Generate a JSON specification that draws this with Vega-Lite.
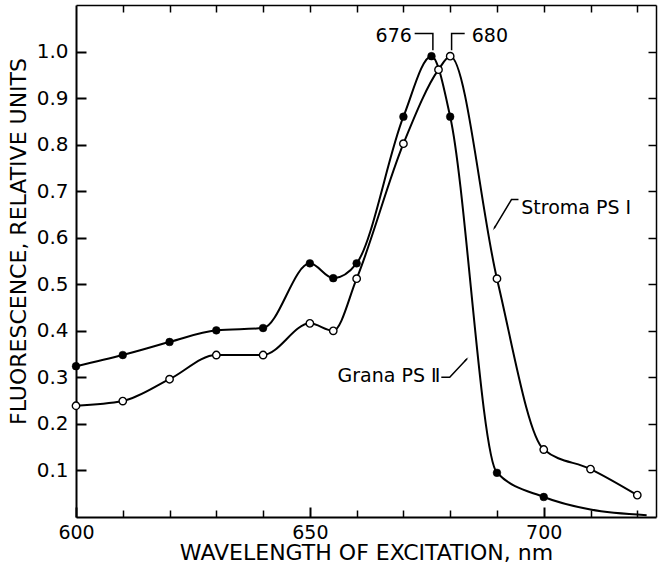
{
  "$schema": "https://vega.github.io/schema/vega-lite/v6.json",
  "width": 580,
  "height": 512,
  "autosize": "none",
  "padding": {"left": 76, "top": 5, "right": 2, "bottom": 54},
  "background": "white",
  "view": {"stroke": null},
  "data": {"values": [
    {"kind": "curve", "series": "Grana PS II", "wl": 600, "f": 0.324, "m": true},
    {"kind": "curve", "series": "Grana PS II", "wl": 610, "f": 0.348, "m": true},
    {"kind": "curve", "series": "Grana PS II", "wl": 620, "f": 0.376, "m": true},
    {"kind": "curve", "series": "Grana PS II", "wl": 630, "f": 0.401, "m": true},
    {"kind": "curve", "series": "Grana PS II", "wl": 640, "f": 0.406, "m": true},
    {"kind": "curve", "series": "Grana PS II", "wl": 650, "f": 0.545, "m": true},
    {"kind": "curve", "series": "Grana PS II", "wl": 655, "f": 0.513, "m": true},
    {"kind": "curve", "series": "Grana PS II", "wl": 660, "f": 0.545, "m": true},
    {"kind": "curve", "series": "Grana PS II", "wl": 670, "f": 0.860, "m": true},
    {"kind": "curve", "series": "Grana PS II", "wl": 676, "f": 0.990, "m": true},
    {"kind": "curve", "series": "Grana PS II", "wl": 680, "f": 0.860, "m": true},
    {"kind": "curve", "series": "Grana PS II", "wl": 690, "f": 0.095, "m": true},
    {"kind": "curve", "series": "Grana PS II", "wl": 700, "f": 0.043, "m": true},
    {"kind": "curve", "series": "Grana PS II", "wl": 710, "f": 0.016, "m": false},
    {"kind": "curve", "series": "Grana PS II", "wl": 722, "f": 0.004, "m": false},
    {"kind": "curve", "series": "Stroma PS I", "wl": 600, "f": 0.239, "m": true},
    {"kind": "curve", "series": "Stroma PS I", "wl": 610, "f": 0.249, "m": true},
    {"kind": "curve", "series": "Stroma PS I", "wl": 620, "f": 0.296, "m": true},
    {"kind": "curve", "series": "Stroma PS I", "wl": 630, "f": 0.348, "m": true},
    {"kind": "curve", "series": "Stroma PS I", "wl": 640, "f": 0.348, "m": true},
    {"kind": "curve", "series": "Stroma PS I", "wl": 650, "f": 0.416, "m": true},
    {"kind": "curve", "series": "Stroma PS I", "wl": 655, "f": 0.400, "m": true},
    {"kind": "curve", "series": "Stroma PS I", "wl": 660, "f": 0.512, "m": true},
    {"kind": "curve", "series": "Stroma PS I", "wl": 670, "f": 0.802, "m": true},
    {"kind": "curve", "series": "Stroma PS I", "wl": 677.5, "f": 0.961, "m": true},
    {"kind": "curve", "series": "Stroma PS I", "wl": 680, "f": 0.990, "m": true},
    {"kind": "curve", "series": "Stroma PS I", "wl": 690, "f": 0.512, "m": true},
    {"kind": "curve", "series": "Stroma PS I", "wl": 700, "f": 0.145, "m": true},
    {"kind": "curve", "series": "Stroma PS I", "wl": 710, "f": 0.103, "m": true},
    {"kind": "curve", "series": "Stroma PS I", "wl": 720, "f": 0.047, "m": true},
    {"kind": "leader", "series": "b676", "o": 1, "wl": 672.4, "f": 1.039},
    {"kind": "leader", "series": "b676", "o": 2, "wl": 676.3, "f": 1.039},
    {"kind": "leader", "series": "b676", "o": 3, "wl": 676.3, "f": 1.003},
    {"kind": "leader", "series": "b680", "o": 1, "wl": 680.3, "f": 1.003},
    {"kind": "leader", "series": "b680", "o": 2, "wl": 680.3, "f": 1.039},
    {"kind": "leader", "series": "b680", "o": 3, "wl": 683.1, "f": 1.039},
    {"kind": "leader", "series": "stroma", "o": 1, "wl": 694.6, "f": 0.682},
    {"kind": "leader", "series": "stroma", "o": 2, "wl": 693.1, "f": 0.682},
    {"kind": "leader", "series": "stroma", "o": 3, "wl": 689.4, "f": 0.620},
    {"kind": "leader", "series": "grana", "o": 1, "wl": 678.1, "f": 0.300},
    {"kind": "leader", "series": "grana", "o": 2, "wl": 679.9, "f": 0.300},
    {"kind": "leader", "series": "grana", "o": 3, "wl": 683.6, "f": 0.340},
    {"kind": "arrow", "wl": 689.5, "f": 0.622, "ang": 211},
    {"kind": "arrow", "wl": 683.4, "f": 0.338, "ang": 43},
    {"kind": "labelR", "wl": 671.8, "f": 1.034, "t": "676"},
    {"kind": "labelR", "wl": 677.9, "f": 0.302, "t": "Grana PS Ⅱ"},
    {"kind": "labelL", "wl": 684.6, "f": 1.034, "t": "680"},
    {"kind": "labelL", "wl": 695.2, "f": 0.663, "t": "Stroma PS Ⅰ"}
  ]},
  "layer": [
    {
      "transform": [{"filter": "datum.kind == 'curve'"}],
      "mark": {"type": "line", "interpolate": "monotone", "color": "black", "strokeWidth": 2},
      "encoding": {
        "detail": {"field": "series"},
        "x": {"field": "wl", "type": "quantitative", "scale": {"domain": [600, 724], "nice": false, "zero": false},
          "axis": {"orient": "bottom", "values": [600, 650, 700], "offset": -10, "tickSize": 10, "tickColor": "#000000", "tickWidth": 2,
            "domainOpacity": 0, "gridOpacity": 0,
            "labelFontSize": 19, "labelPadding": 6, "labelFlush": false, "labelColor": "#000000", "labelFont": "DejaVu Sans",
            "title": "WAVELENGTH OF EXCITATION, nm", "titleFontSize": 22, "titleFont": "DejaVu Sans", "titleFontWeight": "normal", "titleColor": "#000000",
            "titleY": 52, "titleBaseline": "alphabetic"}},
        "y": {"field": "f", "type": "quantitative", "scale": {"domain": [0, 1.1], "nice": false, "zero": false},
          "axis": {"orient": "left", "values": [0.1, 0.2, 0.3, 0.4, 0.5, 0.6, 0.7, 0.8, 0.9, 1.0], "format": ".1f",
            "offset": -10, "tickSize": 10, "tickColor": "#000000", "tickWidth": 2, "domainOpacity": 0, "gridOpacity": 0,
            "labelFontSize": 20, "labelPadding": 8, "labelFlush": false, "labelColor": "#000000", "labelFont": "DejaVu Sans",
            "title": "FLUORESCENCE, RELATIVE UNITS", "titleFontSize": 22, "titleFont": "DejaVu Sans", "titleFontWeight": "normal", "titleColor": "#000000",
            "titleX": -61, "titleY": 236, "titleBaseline": "alphabetic"}}
      }
    },
    {
      "transform": [{"filter": "datum.kind == 'curve' && datum.series == 'Stroma PS I' && datum.m"}],
      "mark": {"type": "point", "shape": "circle", "filled": true, "fill": "white", "stroke": "black", "strokeWidth": 1.4, "size": 55, "opacity": 1},
      "encoding": {
        "x": {"field": "wl", "type": "quantitative",
          "axis": {"orient": "bottom", "values": [610, 620, 630, 640, 660, 670, 680, 690, 710, 720], "offset": -7, "tickSize": 7,
            "tickColor": "#000000", "tickWidth": 1.5, "domainOpacity": 0, "gridOpacity": 0, "labels": false, "title": null}},
        "y": {"field": "f", "type": "quantitative",
          "axis": {"orient": "right", "values": [0.1, 0.2, 0.3, 0.4, 0.5, 0.6, 0.7, 0.8, 0.9, 1.0], "offset": -8, "tickSize": 8,
            "tickColor": "#000000", "tickWidth": 1.5, "domainOpacity": 0, "gridOpacity": 0, "labels": false, "title": null}}
      }
    },
    {
      "transform": [{"filter": "datum.kind == 'curve' && datum.series == 'Grana PS II' && datum.m"}],
      "mark": {"type": "point", "shape": "circle", "filled": true, "fill": "black", "stroke": "black", "strokeWidth": 0.5, "size": 60, "opacity": 1},
      "encoding": {
        "x": {"field": "wl", "type": "quantitative",
          "axis": {"orient": "top", "values": [610, 620, 630, 640, 650, 660, 670, 680, 690, 700, 710, 720], "offset": -7, "tickSize": 7,
            "tickColor": "#000000", "tickWidth": 1.5, "domainOpacity": 0, "gridOpacity": 0, "labels": false, "title": null}},
        "y": {"field": "f", "type": "quantitative",
          "axis": {"orient": "left", "ticks": false, "labels": false, "title": null, "gridOpacity": 0, "domainColor": "#000000", "domainWidth": 2}}
      }
    },
    {
      "transform": [{"filter": "datum.kind == 'leader'"}],
      "mark": {"type": "line", "color": "black", "strokeWidth": 1.5},
      "encoding": {
        "detail": {"field": "series"},
        "order": {"field": "o"},
        "x": {"field": "wl", "type": "quantitative",
          "axis": {"orient": "bottom", "ticks": false, "labels": false, "title": null, "gridOpacity": 0, "domainColor": "#000000", "domainWidth": 2}},
        "y": {"field": "f", "type": "quantitative",
          "axis": {"orient": "right", "ticks": false, "labels": false, "title": null, "gridOpacity": 0, "domainColor": "#000000", "domainWidth": 1.5}}
      }
    },
    {
      "transform": [{"filter": "datum.kind == 'arrow'"}],
      "mark": {"type": "point", "shape": "wedge", "filled": true, "color": "black", "size": 40, "opacity": 1},
      "encoding": {
        "angle": {"field": "ang", "type": "quantitative", "scale": null},
        "x": {"field": "wl", "type": "quantitative",
          "axis": {"orient": "top", "ticks": false, "labels": false, "title": null, "gridOpacity": 0, "domainColor": "#000000", "domainWidth": 1.5}},
        "y": {"field": "f", "type": "quantitative", "axis": null}
      }
    },
    {
      "transform": [{"filter": "datum.kind == 'labelR'"}],
      "mark": {"type": "text", "align": "right", "baseline": "middle", "fontSize": 19, "font": "DejaVu Sans", "color": "black"},
      "encoding": {
        "text": {"field": "t"},
        "x": {"field": "wl", "type": "quantitative", "axis": null},
        "y": {"field": "f", "type": "quantitative", "axis": null}
      }
    },
    {
      "transform": [{"filter": "datum.kind == 'labelL'"}],
      "mark": {"type": "text", "align": "left", "baseline": "middle", "fontSize": 19, "font": "DejaVu Sans", "color": "black"},
      "encoding": {
        "text": {"field": "t"},
        "x": {"field": "wl", "type": "quantitative", "axis": null},
        "y": {"field": "f", "type": "quantitative", "axis": null}
      }
    }
  ],
  "resolve": {"axis": {"x": "independent", "y": "independent"}}
}
